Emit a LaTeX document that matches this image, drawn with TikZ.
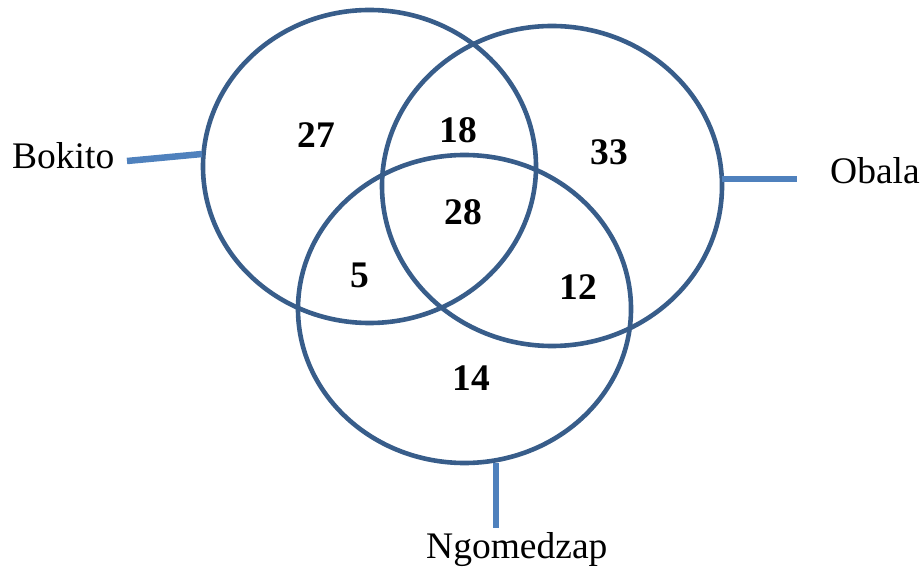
\documentclass[tikz,border=0pt]{standalone}
\usepackage{fontspec}
\setmainfont{Liberation Serif}
\begin{document}
\begin{tikzpicture}[x=1pt,y=-1pt,
  venn/.style={draw=ellcol, line width=4.6pt},
  tick/.style={draw=tickcol, line width=6.5pt},
  lbl/.style={font=\fontsize{37.5}{44}\selectfont, inner sep=0pt, anchor=base west},
  num/.style={font=\fontsize{37.5}{44}\selectfont\bfseries, inner sep=0pt}]
\definecolor{ellcol}{HTML}{385D8A}
\definecolor{tickcol}{HTML}{4F81BD}
\useasboundingbox (0,0) rectangle (921,569);
\draw[venn] (369.5,166.5) ellipse [x radius=166.5, y radius=156.5];
\draw[venn] (552,186) ellipse [x radius=170, y radius=160];
\draw[venn] (464.5,309) ellipse [x radius=166.5, y radius=154];
\coordinate (b1) at (127,161); \coordinate (b2) at (202,154);
\coordinate (o1) at (722,179); \coordinate (o2) at (797,179);
\coordinate (n1) at (496,463); \coordinate (n2) at (496,528);
\draw[tick] (b1) -- (b2);
\draw[tick] (o1) -- (o2);
\draw[tick] (n1) -- (n2);
\node[lbl] (lb) at (12,169) {Bokito};
\node[lbl] (lo) at (830,184) {Obala};
\node[lbl] (ln) at (426,558) {Ngomedzap};
\node[num] (n27) at (316,135) {27};
\node[num] (n18) at (458,130) {18};
\node[num] (n33) at (609,152) {33};
\node[num] (n28) at (463,212) {28};
\node[num] (n5) at (360,275) {5};
\node[num] (n12) at (578,287) {12};
\node[num] (n14) at (471,378) {14};
\end{tikzpicture}
\end{document}
